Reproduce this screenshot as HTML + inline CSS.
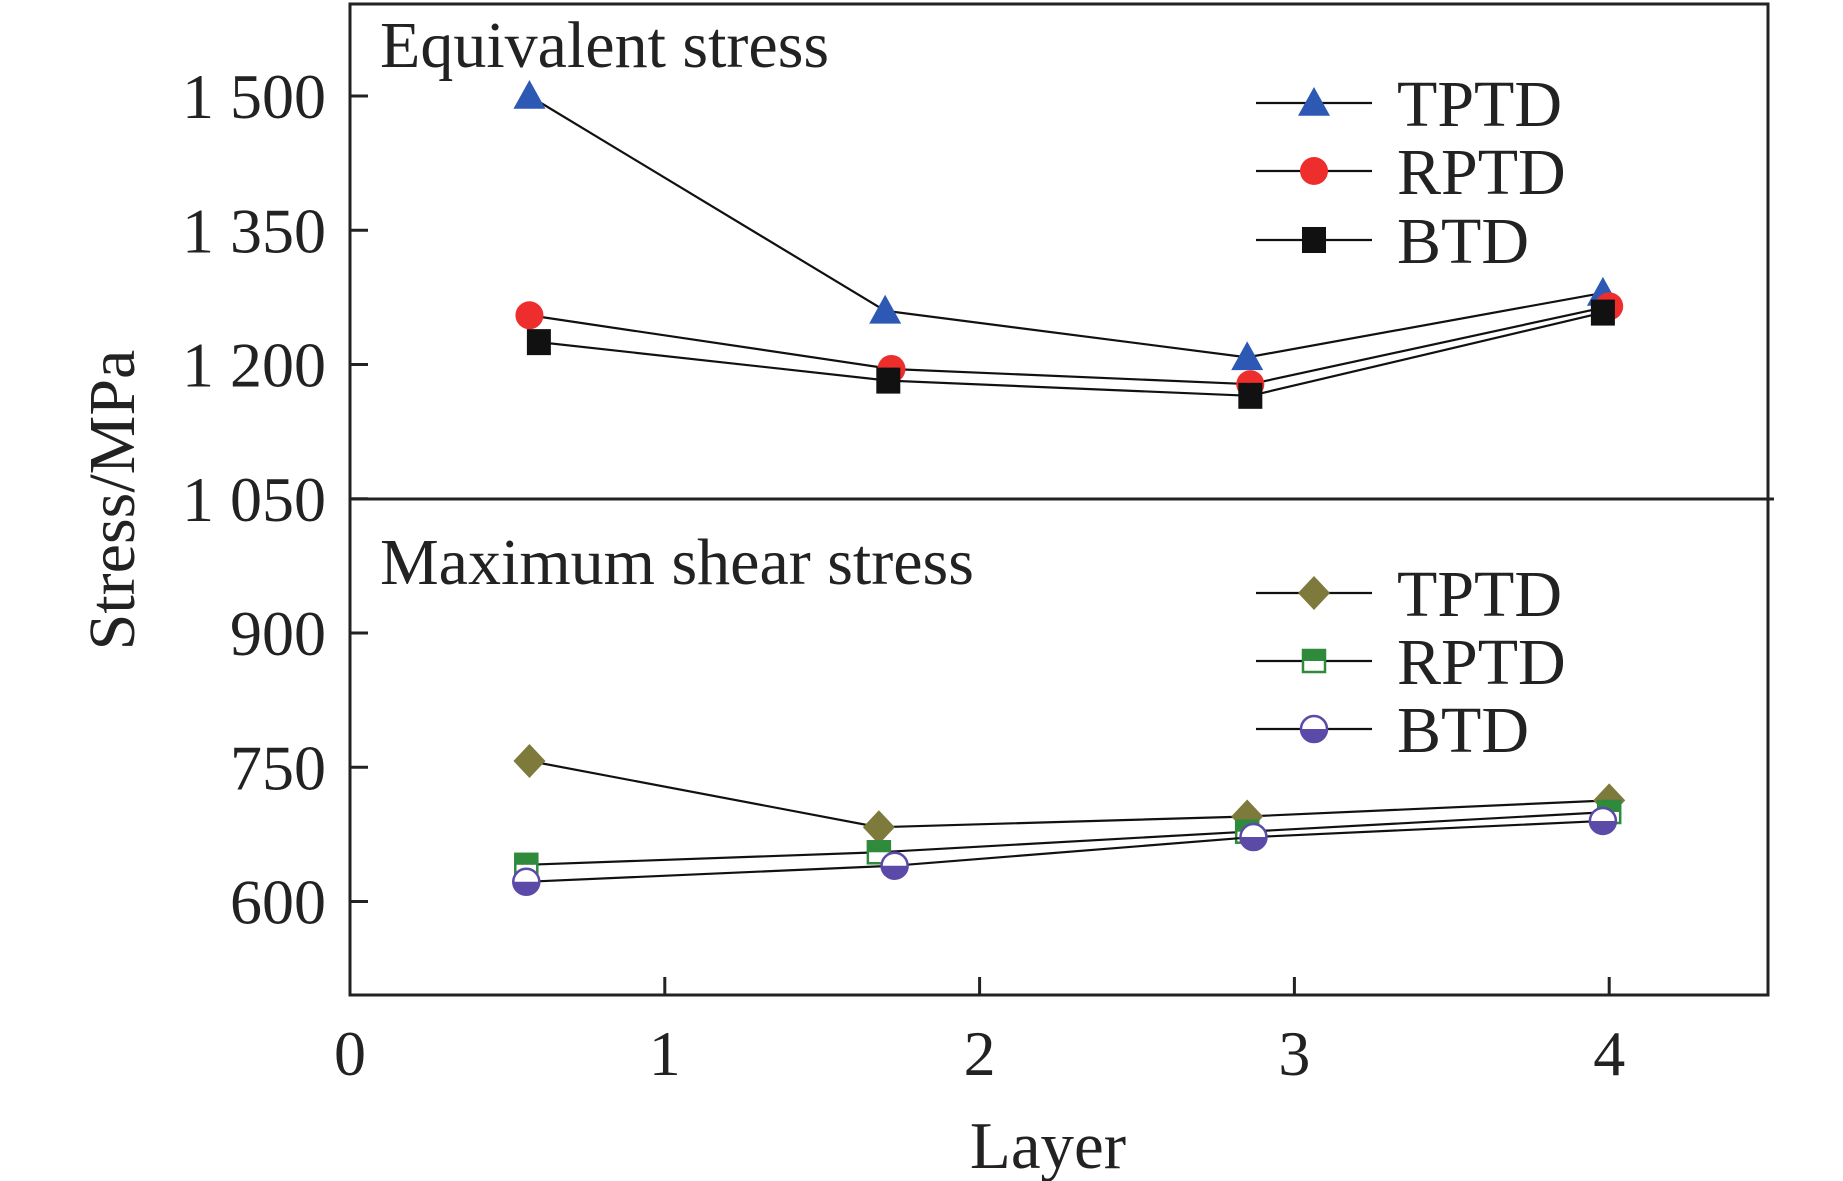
<!DOCTYPE html>
<html><head><meta charset="utf-8"><style>
html,body{margin:0;padding:0;background:#fff}
svg{display:block;font-family:"Liberation Serif",serif}
</style></head><body>
<svg id="chart" width="1843" height="1181" viewBox="0 0 1843 1181">
<rect x="350" y="4" width="1418" height="991" fill="none" stroke="#222" stroke-width="3"/>
<line x1="350" y1="499" x2="1774" y2="499" stroke="#222" stroke-width="3"/>
<text x="380" y="67" font-size="66" fill="#222">Equivalent stress</text>
<text x="380" y="584" font-size="66" fill="#222">Maximum shear stress</text>
<text transform="translate(134,500) rotate(-90)" text-anchor="middle" font-size="66" fill="#222">Stress/MPa</text>
<text x="1048" y="1168" text-anchor="middle" font-size="67" fill="#222">Layer</text>
<g id="axes"></g>
<g id="series"></g>
<g id="legend"></g>
</svg>
<script>
const xTicks=[0,1,2,3,4];
const yTicks=[1500,1350,1200,1050,900,750,600];
const yTickLabels=["1 500","1 350","1 200","1 050","900","750","600"];
const eqTPTDx=[0.57,1.70,2.85,3.98];
const eqTPTDy=[1500,1260,1208,1280];
const eqRPTDx=[0.57,1.72,2.86,4.00];
const eqRPTDy=[1255,1195,1178,1265];
const eqBTDx=[0.60,1.71,2.86,3.98];
const eqBTDy=[1225,1182,1165,1258];
const shTPTDx=[0.57,1.68,2.85,4.00];
const shTPTDy=[757,683,695,713];
const shRPTDx=[0.56,1.68,2.85,4.00];
const shRPTDy=[641,655,678,700];
const shBTDx=[0.56,1.73,2.87,3.98];
const shBTDy=[622,640,672,690];
const legendLabels=["TPTD","RPTD","BTD","TPTD","RPTD","BTD"];

const NS="http://www.w3.org/2000/svg";
const X=v=>350+v*314.8;
const Y=v=>96+(1500-v)*0.895;
function mk(tag,attrs,parent){const e=document.createElementNS(NS,tag);for(const k in attrs)e.setAttribute(k,attrs[k]);parent.appendChild(e);return e;}
const axes=document.getElementById('axes');
xTicks.forEach((t,i)=>{
  if(t>0){const l=mk('line',{x1:X(t),y1:995,x2:X(t),y2:977,stroke:'#222','stroke-width':3},axes);
  
  }
  const tx=mk('text',{x:X(t),y:1075,'text-anchor':'middle','font-size':64,fill:'#222'},axes);
  tx.textContent=t;
  
  
});
yTicks.forEach((t,i)=>{
  const l=mk('line',{x1:350,y1:Y(t),x2:368,y2:Y(t),stroke:'#222','stroke-width':3},axes);
  
  
  const tx=mk('text',{x:326,y:Y(t)+22,'text-anchor':'end','font-size':64,fill:'#222'},axes);
  tx.textContent=yTickLabels[i];
  
  
});
function marker(type,cx,cy,parent){
  const s=16;let e;
  if(type==='tri'){e=mk('polygon',{points:`${cx},${cy-s} ${cx-s},${cy+s*0.8} ${cx+s},${cy+s*0.8}`,fill:'#2d59b5'},parent);}
  else if(type==='circ'){e=mk('circle',{cx:cx,cy:cy,r:14,fill:'#ee2d2d'},parent);}
  else if(type==='sq'){e=mk('rect',{x:cx-12,y:cy-13,width:24,height:26,fill:'#111'},parent);}
  else if(type==='dia'){e=mk('polygon',{points:`${cx},${cy-17} ${cx+16},${cy} ${cx},${cy+17} ${cx-16},${cy}`,fill:'#7d7a3c'},parent);}
  else if(type==='hsq'){e=mk('g',{},parent);
    mk('rect',{x:cx-11,y:cy-11,width:22,height:22,fill:'#fff',stroke:'#2f8a3c','stroke-width':2.5},e);
    mk('rect',{x:cx-11,y:cy-11,width:22,height:11,fill:'#2f8a3c'},e);}
  else if(type==='hc'){e=mk('g',{},parent);
    mk('circle',{cx:cx,cy:cy,r:13,fill:'#fff',stroke:'#5b4aa8','stroke-width':2.5},e);
    mk('path',{d:`M${cx-13},${cy} A13,13 0 0 0 ${cx+13},${cy} Z`,fill:'#5b4aa8'},e);}
  return e;
}
const series=document.getElementById('series');
const defs=[
 ['eq-tptd',eqTPTDx,eqTPTDy,'tri'],['eq-rptd',eqRPTDx,eqRPTDy,'circ'],['eq-btd',eqBTDx,eqBTDy,'sq'],
 ['shear-tptd',shTPTDx,shTPTDy,'dia'],['shear-rptd',shRPTDx,shRPTDy,'hsq'],['shear-btd',shBTDx,shBTDy,'hc']];
defs.forEach(d=>{
  const g=mk('g',{},series);
  
  
  const p=mk('polyline',{points:d[1].map((x,i)=>X(x)+','+Y(d[2][i])).join(' '),fill:'none',stroke:'#111','stroke-width':2.2},g);
  
  
  d[1].forEach((x,i)=>{const m=marker(d[3],X(x),Y(d[2][i]),g);
    
    });
});
const legend=document.getElementById('legend');
const ly=[103,171,240,593,661,729];
defs.forEach((d,i)=>{
  const g=mk('g',{},legend);
  
  
  mk('line',{x1:1256,y1:ly[i],x2:1372,y2:ly[i],stroke:'#111','stroke-width':2.2},g);
  marker(d[3],1314,ly[i],g);
  const t=mk('text',{x:1397,y:ly[i]+23,'font-size':66,fill:'#222'},g);
  t.textContent=legendLabels[i];
});
</script>
</body></html>
